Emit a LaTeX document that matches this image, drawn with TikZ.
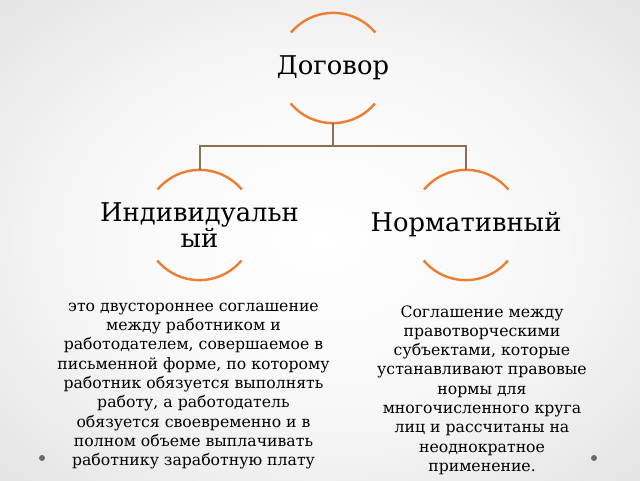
\documentclass[tikz,border=0pt]{standalone}
\usepackage{fontspec}
\setmainfont{DejaVu Serif}
\usetikzlibrary{positioning}
\definecolor{ringorange}{RGB}{237,125,49}
\definecolor{linkbrown}{RGB}{140,112,82}
\definecolor{dotgray}{RGB}{105,105,105}
\pgfdeclareradialshading{slidebg}{\pgfpoint{0bp}{0bp}}{color(0bp)=(white);
  color(18bp)=(black!3); color(50bp)=(black!17)}
\begin{document}
\begin{tikzpicture}[x=1pt,y=1pt,
  ring/.style={circle,minimum size=110pt,inner sep=0pt},
  ringtext/.style={align=center,inner sep=0pt,
    font=\fontsize{25.8}{25.5}\selectfont},
  arcs/.style={draw=ringorange,line width=2.4pt},
  link/.style={draw=linkbrown,line width=2pt},
  desc/.style={align=center,inner sep=0pt,
    font=\fontsize{15.7}{19.3}\selectfont},
  dot/.style={circle,fill=dotgray,minimum size=6pt,inner sep=0pt}]
% background
\shade[shading=slidebg] (0,0) rectangle (640,-480);
\useasboundingbox (0,0) rectangle (640,-480);
% rings
\node[ring] (dog) at (333,-68) {};
\node[ring] (ind) at (199.5,-225) {};
\node[ring] (norm) at (466,-225) {};
\foreach \n in {dog,ind,norm} {
  \draw[arcs] (\n.40) arc[start angle=40,end angle=140,radius=55pt];
  \draw[arcs] (\n.220) arc[start angle=220,end angle=320,radius=55pt];
}
\node[ringtext] (dogtxt) at (dog) {Договор};
\node[ringtext] (indtxt) at (ind) {Индивидуальн\\ый};
\node[ringtext] (normtxt) at (norm) {Нормативный};
% tree
\draw[link] (dog.south) -- ++(0,-23) -| (ind.north);
\draw[link] (dog.south) -- ++(0,-23) -| (norm.north);
% descriptions
\node[desc] (inddesc) at (193.5,-386) {это двустороннее соглашение\\
  между работником и\\работодателем, совершаемое в\\
  письменной форме, по которому\\работник обязуется выполнять\\
  работу, а работодатель\\обязуется своевременно и в\\
  полном объеме выплачивать\\работнику заработную плату};
\node[desc] (normdesc) at (482,-390) {Соглашение между\\
  правотворческими\\субъектами, которые\\устанавливают правовые\\
  нормы для\\многочисленного круга\\лиц и рассчитаны на\\
  неоднократное\\применение.};
% slide dots
\node[dot] (ldot) at (42,-458) {};
\node[dot] (rdot) at (594,-458) {};
\end{tikzpicture}
\end{document}
